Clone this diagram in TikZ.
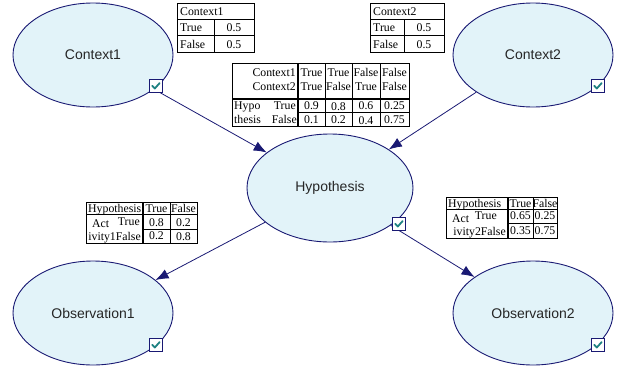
\documentclass[tikz,border=0pt]{standalone}
\usepackage{fontspec}
\setmainfont{Liberation Serif}
\newfontfamily\labelsans{Liberation Sans}
\usetikzlibrary{shapes.geometric,arrows.meta}
\definecolor{navy}{RGB}{25,25,115}
\definecolor{nodefill}{RGB}{226,243,249}
\definecolor{tickgreen}{RGB}{30,130,130}

\begin{document}
\begin{tikzpicture}[x=1pt,y=-1pt,
  bnode/.style={ellipse, draw=navy, line width=0.9pt, fill=nodefill, inner sep=0pt,
    minimum width=160pt, minimum height=104pt,
    font=\labelsans\fontsize{14}{14}\selectfont, text=black!85},
  edge/.style={draw=navy, line width=0.8pt, -{Latex[length=13pt,width=10pt]}},
  chk/.style={draw=navy, line width=0.9pt, fill=white, minimum size=13pt, inner sep=0pt,
    path picture={\draw[tickgreen, line width=1.8pt, line cap=round, line join=round]
      ([xshift=-3.8pt,yshift=0.3pt]path picture bounding box.center) -- ++(2.6pt,-2.8pt) -- ++(4.8pt,5.4pt);}},
  grid/.style={line width=0.6pt},
  frame/.style={line width=0.9pt},
  cell/.style={inner sep=0pt, font=\fontsize{11.8}{11.8}\selectfont},
]
\useasboundingbox (0,0) rectangle (623,367);

% network nodes
\node[bnode] (c1) at (93,55) {Context1};
\node[bnode] (c2) at (533,55) {Context2};
\node[bnode, minimum width=166pt, minimum height=108pt] (hyp) at (330,188) {Hypothesis};
\node[bnode] (o1) at (93,313) {Observation1};
\node[bnode] (o2) at (533,313) {Observation2};

% dependencies
\draw[edge] (c1) -- (hyp);
\draw[edge] (c2) -- (hyp);
\draw[edge] (hyp) -- (o1);
\draw[edge] (hyp) -- (o2);

% check boxes
\node[chk] (k1) at (156,86) {};
\node[chk] (k2) at (598,86) {};
\node[chk] (k3) at (399,224) {};
\node[chk] (k4) at (156,345) {};
\node[chk] (k5) at (598,345) {};

% prior table for Context1
\draw[frame] (177,3) rectangle (254,52);
\draw[grid] (177,19) -- (254,19) (177,35) -- (254,35) (214,19) -- (214,52);
\node[cell, anchor=base west] (p1h) at (180,15) {Context1};
\node[cell, anchor=base west] (p1a) at (180,31) {True};
\node[cell, anchor=base] (p1b) at (234,31) {0.5};
\node[cell, anchor=base west] (p1c) at (180,48) {False};
\node[cell, anchor=base] (p1d) at (234,48) {0.5};

% prior table for Context2
\draw[frame] (370,3) rectangle (444,52);
\draw[grid] (370,19) -- (444,19) (370,35) -- (444,35) (404,19) -- (404,52);
\node[cell, anchor=base west] (p2h) at (373,15) {Context2};
\node[cell, anchor=base west] (p2a) at (373,31) {True};
\node[cell, anchor=base] (p2b) at (424,31) {0.5};
\node[cell, anchor=base west] (p2c) at (373,48) {False};
\node[cell, anchor=base] (p2d) at (424,48) {0.5};

% conditional table for Hypothesis
\draw[frame] (232,63) rectangle (409,126);
\draw[grid] (325,63) -- (325,126) (352,63) -- (352,126) (380,63) -- (380,126)
  (298,112) -- (409,112);
\draw[line width=1.3pt] (298,63) -- (298,126) (232,99) -- (409,99);
\node[cell, anchor=base east] (hc1) at (296,76) {Context1};
\node[cell, anchor=base east] (hc2) at (296,90) {Context2};
\node[cell, anchor=base] (h11) at (311.5,76) {True};
\node[cell, anchor=base] (h12) at (311.5,90) {True};
\node[cell, anchor=base] (h21) at (338.5,76) {True};
\node[cell, anchor=base] (h22) at (338.5,90) {False};
\node[cell, anchor=base] (h31) at (366,76) {False};
\node[cell, anchor=base] (h32) at (366,90) {True};
\node[cell, anchor=base] (h41) at (394.5,76) {False};
\node[cell, anchor=base] (h42) at (394.5,90) {False};
\node[cell, anchor=base west] (hr1) at (234,109) {Hypo};
\node[cell, anchor=base west] (hr2) at (234,123) {thesis};
\node[cell, anchor=base east] (hr3) at (296,109) {True};
\node[cell, anchor=base east] (hr4) at (297,123) {False};
\node[cell, anchor=base] (hv1) at (311.5,109) {0.9};
\node[cell, anchor=base] (hv2) at (338.5,110) {0.8};
\node[cell, anchor=base] (hv3) at (366,109) {0.6};
\node[cell, anchor=base] (hv4) at (394.5,109) {0.25};
\node[cell, anchor=base] (hv5) at (311.5,123) {0.1};
\node[cell, anchor=base] (hv6) at (338.5,123) {0.2};
\node[cell, anchor=base] (hv7) at (366,124) {0.4};
\node[cell, anchor=base] (hv8) at (394.5,123) {0.75};

% conditional table for Observation1
\draw[frame] (86,202) rectangle (197,243);
\draw[grid] (86,214) -- (197,214) (170,202) -- (170,243) (143,229) -- (197,229);
\draw[line width=1.3pt] (143,202) -- (143,243);
\node[cell, anchor=base west] (a1h) at (88,212) {Hypothesis};
\node[cell, anchor=base west] (a1r1) at (92,227.5) {Act};
\node[cell, anchor=base east] (a1r2) at (140,225.5) {True};
\node[cell, anchor=base east] (a1r3) at (141,240) {ivity1False};
\node[cell, anchor=base] (a1t) at (156.5,212) {True};
\node[cell, anchor=base] (a1f) at (183.5,212) {False};
\node[cell, anchor=base] (a1v1) at (156.5,226) {0.8};
\node[cell, anchor=base] (a1v2) at (183.5,226) {0.2};
\node[cell, anchor=base] (a1v3) at (156.5,239) {0.2};
\node[cell, anchor=base] (a1v4) at (183.5,240) {0.8};

% conditional table for Observation2
\draw[frame] (446,197) rectangle (557,238);
\draw[grid] (446,209) -- (557,209) (533,197) -- (533,238) (508,223) -- (557,223);
\draw[line width=1.3pt] (508,197) -- (508,238);
\node[cell, anchor=base west] (a2h) at (448,207) {Hypothesis};
\node[cell, anchor=base west] (a2r1) at (452,222.5) {Act};
\node[cell, anchor=base east] (a2r2) at (497,219.5) {True};
\node[cell, anchor=base east] (a2r3) at (506,235) {ivity2False};
\node[cell, anchor=base] (a2t) at (520.5,207) {True};
\node[cell, anchor=base] (a2f) at (545,207) {False};
\node[cell, anchor=base] (a2v1) at (520.5,219) {0.65};
\node[cell, anchor=base] (a2v2) at (545,219) {0.25};
\node[cell, anchor=base] (a2v3) at (520.5,234) {0.35};
\node[cell, anchor=base] (a2v4) at (545,234) {0.75};
\end{tikzpicture}
\end{document}
